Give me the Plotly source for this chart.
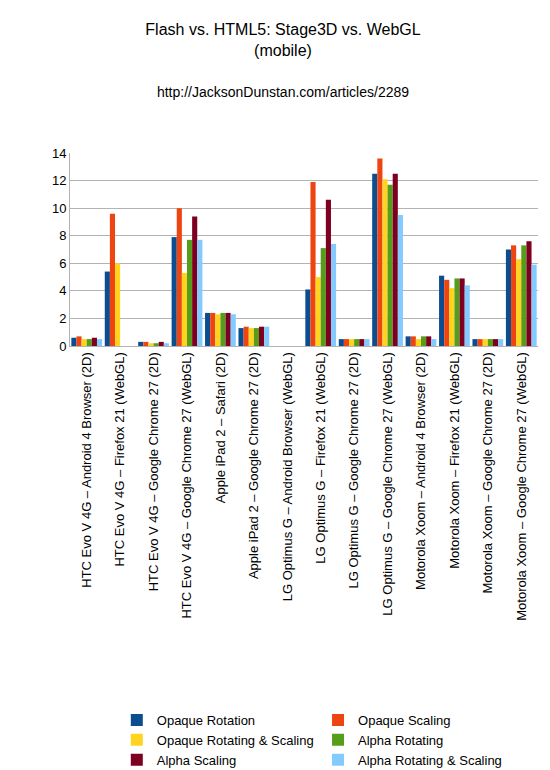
import plotly.graph_objects as go

categories = [
    "HTC Evo V 4G – Android 4 Browser (2D)",
    "HTC Evo V 4G – Firefox 21 (WebGL)",
    "HTC Evo V 4G – Google Chrome 27 (2D)",
    "HTC Evo V 4G – Google Chrome 27 (WebGL)",
    "Apple iPad 2 – Safari (2D)",
    "Apple iPad 2 – Google Chrome 27 (2D)",
    "LG Optimus G – Android Browser (WebGL)",
    "LG Optimus G – Firefox 21 (WebGL)",
    "LG Optimus G – Google Chrome 27 (2D)",
    "LG Optimus G – Google Chrome 27 (WebGL)",
    "Motorola Xoom – Android 4 Browser (2D)",
    "Motorola Xoom – Firefox 21 (WebGL)",
    "Motorola Xoom – Google Chrome 27 (2D)",
    "Motorola Xoom – Google Chrome 27 (WebGL)",
]

opaque_rotation = [0.6, 5.4, 0.3, 7.9, 2.4, 1.3, 0, 4.1, 0.5, 12.5, 0.7, 5.1, 0.5, 7.0]
opaque_scaling = [0.7, 9.6, 0.3, 10.0, 2.4, 1.4, 0, 11.9, 0.5, 13.6, 0.7, 4.8, 0.5, 7.3]
opaque_rot_scale = [0.5, 6.0, 0.2, 5.3, 2.3, 1.3, 0, 5.0, 0.5, 12.1, 0.5, 4.2, 0.5, 6.3]
alpha_rotating = [0.5, 0, 0.2, 7.7, 2.4, 1.3, 0, 7.1, 0.5, 11.7, 0.7, 4.9, 0.5, 7.3]
alpha_scaling = [0.6, 0, 0.3, 9.4, 2.4, 1.4, 0, 10.6, 0.5, 12.5, 0.7, 4.9, 0.5, 7.6]
alpha_rot_scale = [0.5, 0, 0.2, 7.7, 2.3, 1.4, 0, 7.4, 0.5, 9.5, 0.5, 4.4, 0.5, 5.9]

series = [
    ("Opaque Rotation", opaque_rotation, "#0b4d8f"),
    ("Opaque Scaling", opaque_scaling, "#ee4411"),
    ("Opaque Rotating & Scaling", opaque_rot_scale, "#ffd320"),
    ("Alpha Rotating", alpha_rotating, "#579d1c"),
    ("Alpha Scaling", alpha_scaling, "#7e0021"),
    ("Alpha Rotating & Scaling", alpha_rot_scale, "#83caff"),
]

fig = go.Figure()
for name, vals, color in series:
    fig.add_trace(go.Bar(x=categories, y=vals, name=name, marker_color=color,
                         marker_line_width=0))

fig.update_layout(
    width=550, height=770,
    paper_bgcolor="white", plot_bgcolor="white",
    font=dict(family="Liberation Sans, Arial", size=13, color="black"),
    title=dict(text="Flash vs. HTML5: Stage3D vs. WebGL<br>(mobile)<br><br><span style='font-size:14px'>http://JacksonDunstan.com/articles/2289</span>",
               x=0.5, y=0.965, xanchor="center", yanchor="top", font=dict(size=16)),
    margin=dict(l=62, r=20, t=145, b=432, autoexpand=False),
    barmode="group", bargap=0.08, bargroupgap=0,
    legend=dict(orientation="h", x=0.1, y=-1.86, xanchor="left", yanchor="top",
                entrywidth=0.43, entrywidthmode="fraction", font=dict(size=13),
                traceorder="normal", tracegroupgap=0),
)
fig.update_yaxes(range=[0, 14], dtick=2, showgrid=True, gridcolor="#b3b3b3",
                 showline=True, linecolor="#b3b3b3", ticks="", tickfont=dict(size=13),
                 automargin=False)
fig.update_xaxes(tickangle=-90, showline=True, linecolor="#b3b3b3", tickfont=dict(size=13),
                 automargin=False)

fig.write_html("out.html")
